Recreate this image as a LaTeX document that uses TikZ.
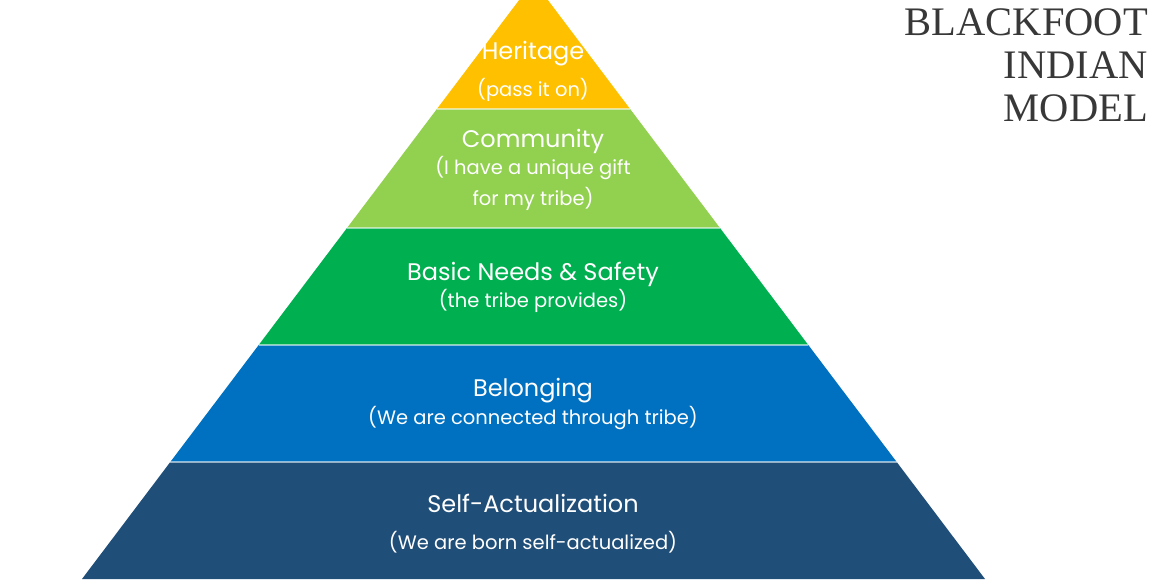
\documentclass[tikz,border=0pt]{standalone}
\usepackage{fontspec}
\setmainfont{Poppins}
\newfontfamily\titlefont{Liberation Serif}
\definecolor{cyellow}{HTML}{FFC000}
\definecolor{clgreen}{HTML}{92D050}
\definecolor{cgreen}{HTML}{00B050}
\definecolor{cblue}{HTML}{0070C0}
\definecolor{cdblue}{HTML}{1F4E79}
\definecolor{ctitle}{HTML}{383838}
\begin{document}
\begin{tikzpicture}[x=1pt,y=-1pt,
  head/.style={text=white,font=\fontsize{24}{28}\selectfont,inner sep=0pt},
  sub/.style={text=white,font=\fontsize{19.5}{23}\selectfont,inner sep=0pt},
  sep/.style={white,opacity=0.55,line width=1.6pt},
  ttl/.style={text=ctitle,font=\titlefont\fontsize{40.5}{43}\selectfont,anchor=east,inner sep=0pt}]
\useasboundingbox (0,0) rectangle (1170,585);
\begin{scope}
\clip (0,0) rectangle (1170,585);
% apex (533.5,-19), slope 0.755
\fill[cyellow] (533.5,-19) -- (630.1,109) -- (436.9,109) -- cycle;
\fill[clgreen] (436.9,109) -- (630.1,109) -- (720,228) -- (347,228) -- cycle;
\fill[cgreen] (347,228) -- (720,228) -- (808.3,345) -- (258.7,345) -- cycle;
\fill[cblue] (258.7,345) -- (808.3,345) -- (896.7,462) -- (170.3,462) -- cycle;
\fill[cdblue] (170.3,462) -- (896.7,462) -- (985,579) -- (82,579) -- cycle;
\draw[sep] (436.9,109) -- (630.1,109);
\draw[sep] (347,228) -- (720,228);
\draw[sep] (258.7,345) -- (808.3,345);
\draw[sep] (170.3,462) -- (896.7,462);
\end{scope}
\node[head] (h1) at (533,54) {Heritage};
\node[sub] (s1) at (533,90) {(pass it on)};
\node[head] (h2) at (533,141) {Community};
\node[sub] (s2a) at (533,168) {(I have a unique gift};
\node[sub] (s2b) at (533,199) {for my tribe)};
\node[head] (h3) at (533,274) {Basic Needs \& Safety};
\node[sub] (s3) at (533,301) {(the tribe provides)};
\node[head] (h4) at (533,391) {Belonging};
\node[sub] (s4) at (533,418) {(We are connected through tribe)};
\node[head] (h5) at (533,503) {Self-Actualization};
\node[sub] (s5) at (533,542) {(We are born self-actualized)};
\node[ttl] (t1) at (1148,22) {BLACKFOOT};
\node[ttl] (t2) at (1148,65) {INDIAN};
\node[ttl] (t3) at (1148,108) {MODEL};
\end{tikzpicture}
\end{document}
